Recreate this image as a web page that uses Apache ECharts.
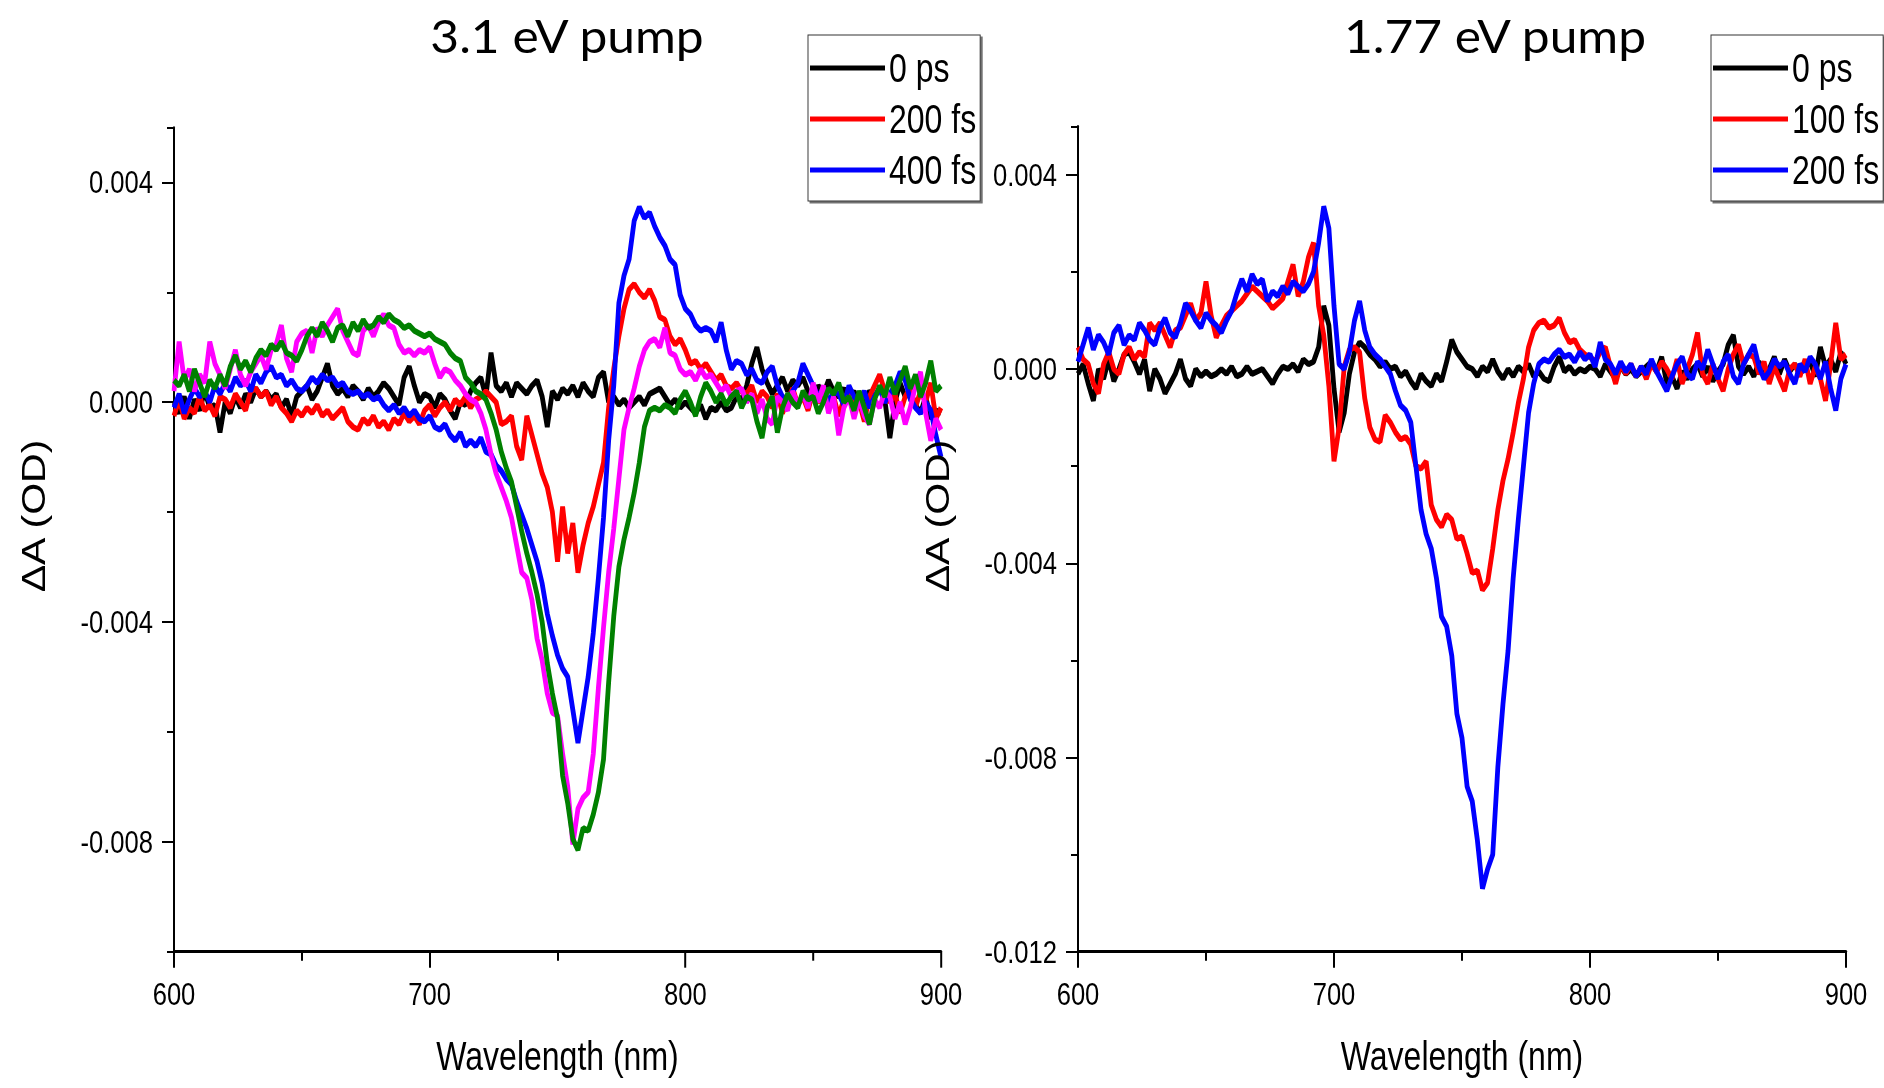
<!DOCTYPE html>
<html>
<head>
<meta charset="utf-8">
<script src="https://cdn.jsdelivr.net/npm/echarts@6/dist/echarts.min.js"></script>
<style>
html,body{margin:0;padding:0;background:#fff;overflow:hidden;width:1884px;height:1088px;}
/* the original figure is horizontally compressed (narrow-looking text); reproduce with a CSS squeeze */
.c{position:absolute;left:0;top:0;width:2355px;height:1088px;transform:scaleX(0.8);transform-origin:0 0;}
</style>
</head>
<body>
<div id="leftChart" class="c"></div>
<div id="rightChart" class="c"></div>
<script>
// ---------------- DATA ----------------
const wavelength = [
600,602,604,606,608,610,612,614,616,618,
620,622,624,626,628,630,632,634,636,638,
640,642,644,646,648,650,652,654,656,658,
660,662,664,666,668,670,672,674,676,678,
680,682,684,686,688,690,692,694,696,698,
700,702,704,706,708,710,712,714,716,718,
720,722,724,726,728,730,732,734,736,738,
740,742,744,746,748,750,752,754,756,758,
760,762,764,766,768,770,772,774,776,778,
780,782,784,786,788,790,792,794,796,798,
800,802,804,806,808,810,812,814,816,818,
820,822,824,826,828,830,832,834,836,838,
840,842,844,846,848,850,852,854,856,858,
860,862,864,866,868,870,872,874,876,878,
880,882,884,886,888,890,892,894,896,898,
900];

// 3.1 eV pump panel
const pump31_0ps = [
0.0e-3,-0.2e-3,0.1e-3,-0.3e-3,0.05e-3,-0.15e-3,0.2e-3,-0.1e-3,-0.05e-3,-0.55e-3,
0.0e-3,-0.2e-3,0.1e-3,-0.1e-3,0.15e-3,0.0e-3,0.25e-3,0.1e-3,0.2e-3,0.05e-3,
0.15e-3,-0.1e-3,0.05e-3,-0.25e-3,0.1e-3,0.2e-3,0.3e-3,0.05e-3,0.2e-3,0.45e-3,
0.7e-3,0.3e-3,0.15e-3,0.25e-3,0.1e-3,0.3e-3,0.2e-3,0.05e-3,0.25e-3,0.1e-3,
0.2e-3,0.35e-3,0.25e-3,0.1e-3,-0.05e-3,0.45e-3,0.65e-3,0.3e-3,0.0e-3,0.15e-3,
0.1e-3,-0.1e-3,0.15e-3,0.05e-3,-0.15e-3,-0.3e-3,0.0e-3,-0.05e-3,0.2e-3,0.35e-3,
0.45e-3,0.1e-3,0.9e-3,0.3e-3,0.2e-3,0.35e-3,0.1e-3,0.35e-3,0.25e-3,0.15e-3,
0.3e-3,0.4e-3,0.1e-3,-0.45e-3,0.2e-3,0.05e-3,0.25e-3,0.15e-3,0.3e-3,0.1e-3,
0.35e-3,0.2e-3,0.1e-3,0.45e-3,0.55e-3,0.0e-3,0.1e-3,-0.05e-3,0.05e-3,-0.1e-3,
0.0e-3,0.1e-3,-0.05e-3,0.15e-3,0.2e-3,0.25e-3,0.1e-3,-0.05e-3,0.05e-3,-0.1e-3,
0.0e-3,-0.1e-3,-0.2e-3,-0.05e-3,-0.3e-3,-0.1e-3,-0.15e-3,0.0e-3,-0.15e-3,-0.1e-3,
0.1e-3,0.05e-3,0.3e-3,0.7e-3,1.0e-3,0.6e-3,0.35e-3,0.15e-3,0.3e-3,0.45e-3,
0.2e-3,0.4e-3,0.3e-3,0.45e-3,0.2e-3,0.05e-3,0.3e-3,0.15e-3,0.4e-3,0.2e-3,
0.1e-3,0.25e-3,0.05e-3,0.2e-3,-0.05e-3,0.0e-3,0.2e-3,0.1e-3,0.25e-3,0.05e-3,
-0.65e-3,0.0e-3,0.35e-3,0.1e-3,0.2e-3,-0.05e-3,-0.2e-3,0.1e-3,-0.3e-3,-0.15e-3,
-0.2e-3];

const pump31_200fs = [
-0.25e-3,0.05e-3,-0.3e-3,-0.1e-3,-0.2e-3,0.1e-3,-0.15e-3,-0.05e-3,-0.25e-3,0.1e-3,
0.05e-3,-0.1e-3,0.15e-3,0.0e-3,-0.15e-3,0.2e-3,0.25e-3,0.1e-3,0.2e-3,-0.05e-3,
0.1e-3,-0.1e-3,-0.2e-3,-0.35e-3,-0.15e-3,-0.25e-3,-0.1e-3,-0.2e-3,-0.05e-3,-0.25e-3,
-0.15e-3,-0.3e-3,-0.2e-3,-0.1e-3,-0.35e-3,-0.45e-3,-0.5e-3,-0.3e-3,-0.4e-3,-0.25e-3,
-0.45e-3,-0.35e-3,-0.5e-3,-0.3e-3,-0.4e-3,-0.2e-3,-0.35e-3,-0.25e-3,-0.4e-3,-0.15e-3,
-0.05e-3,-0.25e-3,-0.1e-3,0.0e-3,-0.15e-3,0.05e-3,-0.05e-3,0.1e-3,-0.1e-3,0.05e-3,
0.1e-3,0.2e-3,0.1e-3,0.0e-3,-0.4e-3,-0.35e-3,-0.25e-3,-0.8e-3,-1.05e-3,-0.25e-3,
-0.6e-3,-0.95e-3,-1.3e-3,-1.55e-3,-2.0e-3,-2.9e-3,-1.9e-3,-2.75e-3,-2.2e-3,-3.1e-3,
-2.6e-3,-2.2e-3,-1.9e-3,-1.5e-3,-1.1e-3,-0.1e-3,0.6e-3,1.2e-3,1.7e-3,2.05e-3,
2.15e-3,2.0e-3,1.9e-3,2.05e-3,1.85e-3,1.55e-3,1.5e-3,1.2e-3,1.05e-3,1.15e-3,
0.95e-3,0.7e-3,0.75e-3,0.6e-3,0.7e-3,0.55e-3,0.4e-3,0.5e-3,0.3e-3,0.25e-3,
0.35e-3,0.2e-3,0.15e-3,0.3e-3,0.0e-3,0.2e-3,0.1e-3,-0.1e-3,0.15e-3,-0.2e-3,
0.05e-3,0.25e-3,-0.05e-3,0.1e-3,-0.15e-3,0.2e-3,0.0e-3,0.15e-3,-0.1e-3,0.1e-3,
-0.25e-3,0.05e-3,0.2e-3,-0.1e-3,0.0e-3,-0.35e-3,0.1e-3,0.3e-3,0.5e-3,0.2e-3,
0.0e-3,0.15e-3,-0.2e-3,0.1e-3,0.25e-3,-0.1e-3,0.2e-3,0.0e-3,0.35e-3,-0.3e-3,
-0.1e-3];

const pump31_400fs = [
-0.1e-3,0.15e-3,-0.2e-3,0.05e-3,0.25e-3,0.1e-3,0.2e-3,0.0e-3,0.3e-3,0.15e-3,
0.35e-3,0.2e-3,0.45e-3,0.3e-3,0.4e-3,0.2e-3,0.5e-3,0.35e-3,0.55e-3,0.65e-3,
0.45e-3,0.5e-3,0.3e-3,0.4e-3,0.25e-3,0.2e-3,0.3e-3,0.45e-3,0.35e-3,0.5e-3,
0.4e-3,0.45e-3,0.3e-3,0.35e-3,0.2e-3,0.15e-3,0.2e-3,0.1e-3,0.15e-3,0.05e-3,
0.1e-3,-0.05e-3,-0.15e-3,-0.05e-3,-0.2e-3,-0.1e-3,-0.25e-3,-0.15e-3,-0.3e-3,-0.35e-3,
-0.25e-3,-0.45e-3,-0.5e-3,-0.4e-3,-0.6e-3,-0.7e-3,-0.55e-3,-0.8e-3,-0.7e-3,-0.8e-3,
-0.65e-3,-0.9e-3,-0.95e-3,-1.15e-3,-1.25e-3,-1.4e-3,-1.5e-3,-1.8e-3,-2.05e-3,-2.3e-3,
-2.6e-3,-2.9e-3,-3.3e-3,-3.85e-3,-4.25e-3,-4.6e-3,-4.85e-3,-5.0e-3,-5.6e-3,-6.2e-3,
-5.6e-3,-5.0e-3,-4.2e-3,-3.2e-3,-2.1e-3,-0.7e-3,0.3e-3,1.8e-3,2.3e-3,2.6e-3,
3.3e-3,3.55e-3,3.35e-3,3.45e-3,3.2e-3,3.0e-3,2.85e-3,2.6e-3,2.5e-3,1.95e-3,
1.7e-3,1.6e-3,1.4e-3,1.3e-3,1.35e-3,1.3e-3,1.1e-3,1.45e-3,0.95e-3,0.6e-3,
0.75e-3,0.7e-3,0.5e-3,0.6e-3,0.4e-3,0.35e-3,0.55e-3,0.65e-3,0.3e-3,0.1e-3,
0.05e-3,0.2e-3,0.35e-3,0.7e-3,0.5e-3,0.3e-3,0.1e-3,0.25e-3,0.0e-3,0.2e-3,
0.15e-3,-0.05e-3,0.3e-3,0.1e-3,0.0e-3,0.2e-3,-0.1e-3,0.1e-3,0.25e-3,0.0e-3,
0.15e-3,0.3e-3,0.55e-3,0.4e-3,0.05e-3,-0.1e-3,-0.2e-3,0.0e-3,-0.15e-3,-0.6e-3,
-1.0e-3];

// two further (unlabelled) traces of the 3.1 eV panel
const pump31_magenta = [
0.2e-3,1.1e-3,0.4e-3,0.6e-3,0.2e-3,0.5e-3,0.35e-3,1.1e-3,0.7e-3,0.5e-3,
0.25e-3,0.6e-3,0.95e-3,0.5e-3,0.3e-3,0.55e-3,0.7e-3,0.85e-3,0.6e-3,0.95e-3,
1.05e-3,1.4e-3,0.8e-3,0.55e-3,1.1e-3,1.25e-3,1.3e-3,0.9e-3,1.35e-3,1.2e-3,
1.4e-3,1.55e-3,1.7e-3,1.3e-3,1.1e-3,0.9e-3,0.85e-3,1.3e-3,1.4e-3,1.2e-3,
1.45e-3,1.6e-3,1.4e-3,1.35e-3,1.05e-3,0.9e-3,0.95e-3,0.85e-3,0.95e-3,0.9e-3,
1.0e-3,0.7e-3,0.45e-3,0.6e-3,0.55e-3,0.4e-3,0.3e-3,0.15e-3,0.05e-3,0.0e-3,
-0.2e-3,-0.5e-3,-0.95e-3,-1.3e-3,-1.55e-3,-1.8e-3,-2.1e-3,-2.6e-3,-3.1e-3,-3.2e-3,
-3.6e-3,-4.3e-3,-4.7e-3,-5.3e-3,-5.65e-3,-5.7e-3,-6.4e-3,-7.0e-3,-8.05e-3,-7.4e-3,
-7.2e-3,-7.1e-3,-6.4e-3,-5.2e-3,-4.1e-3,-3.1e-3,-2.3e-3,-1.4e-3,-0.5e-3,-0.1e-3,
0.25e-3,0.65e-3,0.95e-3,1.1e-3,1.15e-3,1.0e-3,1.35e-3,0.9e-3,0.85e-3,0.6e-3,
0.5e-3,0.55e-3,0.4e-3,0.6e-3,0.45e-3,0.5e-3,0.35e-3,0.2e-3,0.3e-3,0.1e-3,
0.2e-3,0.25e-3,0.0e-3,0.15e-3,-0.2e-3,0.05e-3,-0.3e-3,-0.4e-3,0.1e-3,0.0e-3,
-0.15e-3,0.2e-3,-0.05e-3,0.15e-3,-0.1e-3,0.35e-3,0.0e-3,0.3e-3,-0.2e-3,0.1e-3,
-0.6e-3,-0.1e-3,0.1e-3,-0.3e-3,0.05e-3,-0.25e-3,-0.4e-3,0.05e-3,-0.1e-3,0.2e-3,
0.1e-3,-0.3e-3,0.0e-3,-0.4e-3,-0.1e-3,0.3e-3,0.55e-3,-0.2e-3,-0.7e-3,-0.3e-3,
-0.5e-3];

const pump31_green = [
0.4e-3,0.3e-3,0.5e-3,0.2e-3,0.6e-3,0.35e-3,0.1e-3,0.4e-3,0.25e-3,0.5e-3,
0.3e-3,0.65e-3,0.85e-3,0.6e-3,0.75e-3,0.55e-3,0.8e-3,0.95e-3,0.85e-3,1.05e-3,
0.95e-3,1.1e-3,0.9e-3,0.85e-3,0.75e-3,0.95e-3,1.2e-3,1.35e-3,1.2e-3,1.45e-3,
1.3e-3,1.1e-3,1.35e-3,1.4e-3,1.2e-3,1.45e-3,1.3e-3,1.5e-3,1.35e-3,1.4e-3,
1.55e-3,1.45e-3,1.6e-3,1.5e-3,1.45e-3,1.35e-3,1.4e-3,1.3e-3,1.25e-3,1.2e-3,
1.25e-3,1.15e-3,1.1e-3,1.05e-3,0.9e-3,0.8e-3,0.75e-3,0.45e-3,0.35e-3,0.2e-3,
0.15e-3,0.05e-3,-0.2e-3,-0.5e-3,-0.9e-3,-1.2e-3,-1.45e-3,-1.9e-3,-2.35e-3,-2.75e-3,
-3.1e-3,-3.5e-3,-4.0e-3,-4.75e-3,-5.3e-3,-5.75e-3,-6.8e-3,-7.3e-3,-7.95e-3,-8.15e-3,
-7.75e-3,-7.8e-3,-7.5e-3,-7.1e-3,-6.5e-3,-5.1e-3,-3.9e-3,-3.0e-3,-2.5e-3,-2.1e-3,
-1.65e-3,-1.1e-3,-0.45e-3,-0.15e-3,-0.1e-3,-0.15e-3,-0.05e-3,-0.1e-3,-0.2e-3,0.05e-3,
0.2e-3,0.0e-3,-0.25e-3,0.1e-3,0.35e-3,0.2e-3,0.0e-3,0.15e-3,-0.05e-3,0.1e-3,
0.2e-3,-0.1e-3,0.1e-3,0.05e-3,-0.35e-3,-0.65e-3,-0.1e-3,0.1e-3,-0.55e-3,-0.1e-3,
0.15e-3,0.0e-3,-0.1e-3,0.2e-3,0.05e-3,0.1e-3,-0.2e-3,0.0e-3,0.25e-3,0.15e-3,
0.35e-3,0.0e-3,0.1e-3,-0.15e-3,0.2e-3,-0.1e-3,-0.4e-3,0.05e-3,0.3e-3,0.1e-3,
0.45e-3,0.15e-3,0.4e-3,0.65e-3,0.25e-3,0.5e-3,0.1e-3,0.35e-3,0.75e-3,0.2e-3,
0.3e-3];

// 1.77 eV pump panel
const pump177_0ps = [
-0.1e-3,0.1e-3,-0.3e-3,-0.65e-3,0.0e-3,-0.2e-3,0.2e-3,-0.25e-3,0.0e-3,0.3e-3,
0.35e-3,0.15e-3,-0.1e-3,0.2e-3,-0.45e-3,0.0e-3,-0.2e-3,-0.5e-3,-0.3e-3,-0.1e-3,
0.2e-3,-0.2e-3,-0.35e-3,0.0e-3,-0.15e-3,-0.05e-3,-0.15e-3,-0.1e-3,0.0e-3,-0.1e-3,
0.05e-3,-0.15e-3,-0.1e-3,0.05e-3,-0.1e-3,-0.05e-3,0.0e-3,-0.15e-3,-0.3e-3,-0.1e-3,
0.05e-3,0.0e-3,0.1e-3,-0.05e-3,0.2e-3,0.1e-3,0.15e-3,0.45e-3,1.3e-3,0.9e-3,
-0.4e-3,-1.3e-3,-0.9e-3,-0.1e-3,0.35e-3,0.55e-3,0.45e-3,0.3e-3,0.2e-3,0.05e-3,
0.15e-3,0.0e-3,0.05e-3,-0.15e-3,-0.05e-3,-0.25e-3,-0.4e-3,-0.1e-3,-0.25e-3,-0.35e-3,
-0.1e-3,-0.25e-3,0.15e-3,0.6e-3,0.35e-3,0.2e-3,0.05e-3,0.0e-3,-0.15e-3,0.05e-3,
-0.05e-3,0.2e-3,-0.05e-3,-0.2e-3,0.0e-3,-0.15e-3,0.05e-3,-0.05e-3,0.1e-3,-0.15e-3,
-0.05e-3,-0.2e-3,-0.25e-3,0.05e-3,0.25e-3,-0.05e-3,0.05e-3,-0.1e-3,0.0e-3,-0.05e-3,
0.05e-3,0.0e-3,-0.15e-3,0.1e-3,-0.05e-3,-0.2e-3,0.05e-3,-0.1e-3,0.0e-3,-0.15e-3,
-0.05e-3,0.05e-3,0.15e-3,-0.05e-3,0.25e-3,-0.3e-3,-0.15e-3,-0.4e-3,-0.05e-3,-0.2e-3,
0.0e-3,0.1e-3,-0.15e-3,0.05e-3,-0.25e-3,-0.05e-3,0.1e-3,0.5e-3,0.7e-3,0.05e-3,
-0.1e-3,0.05e-3,-0.15e-3,0.15e-3,-0.05e-3,0.0e-3,0.25e-3,-0.1e-3,0.2e-3,-0.05e-3,
0.1e-3,-0.1e-3,0.05e-3,0.15e-3,-0.15e-3,0.45e-3,0.05e-3,0.2e-3,-0.05e-3,0.35e-3,
0.1e-3];

const pump177_100fs = [
0.45e-3,0.2e-3,0.1e-3,-0.3e-3,-0.5e-3,0.1e-3,0.35e-3,0.0e-3,-0.1e-3,0.3e-3,
0.45e-3,0.2e-3,0.35e-3,0.25e-3,0.95e-3,0.8e-3,0.95e-3,0.7e-3,0.45e-3,0.8e-3,
0.85e-3,1.1e-3,1.35e-3,1.0e-3,1.15e-3,1.8e-3,1.1e-3,0.65e-3,0.9e-3,1.1e-3,
1.2e-3,1.3e-3,1.4e-3,1.55e-3,1.7e-3,1.6e-3,1.5e-3,1.4e-3,1.25e-3,1.35e-3,
1.45e-3,1.8e-3,2.15e-3,1.5e-3,1.8e-3,2.3e-3,2.6e-3,1.3e-3,0.7e-3,-0.35e-3,
-1.9e-3,-1.2e-3,0.05e-3,0.4e-3,0.45e-3,0.35e-3,-0.6e-3,-1.2e-3,-1.45e-3,-1.5e-3,
-0.95e-3,-1.1e-3,-1.3e-3,-1.45e-3,-1.4e-3,-1.55e-3,-2.0e-3,-2.05e-3,-1.9e-3,-2.8e-3,
-3.1e-3,-3.25e-3,-3.0e-3,-3.1e-3,-3.5e-3,-3.45e-3,-3.8e-3,-4.2e-3,-4.15e-3,-4.55e-3,
-4.4e-3,-3.7e-3,-2.9e-3,-2.3e-3,-1.85e-3,-1.3e-3,-0.7e-3,-0.2e-3,0.45e-3,0.8e-3,
0.95e-3,1.0e-3,0.85e-3,0.9e-3,1.05e-3,0.75e-3,0.55e-3,0.6e-3,0.4e-3,0.3e-3,
0.25e-3,0.15e-3,0.35e-3,0.45e-3,0.05e-3,-0.3e-3,0.1e-3,-0.1e-3,0.1e-3,-0.15e-3,
0.05e-3,-0.2e-3,0.1e-3,-0.05e-3,0.15e-3,0.0e-3,-0.2e-3,0.2e-3,-0.3e-3,0.0e-3,
0.3e-3,0.75e-3,-0.1e-3,-0.3e-3,0.1e-3,-0.2e-3,-0.45e-3,0.0e-3,0.3e-3,0.5e-3,
0.1e-3,0.3e-3,0.25e-3,-0.1e-3,0.15e-3,-0.3e-3,0.05e-3,-0.2e-3,-0.45e-3,0.0e-3,
0.1e-3,-0.15e-3,0.2e-3,-0.3e-3,0.05e-3,-0.2e-3,-0.65e-3,0.1e-3,0.95e-3,0.2e-3,
0.3e-3];

const pump177_200fs = [
0.15e-3,0.5e-3,0.85e-3,0.4e-3,0.7e-3,0.55e-3,0.3e-3,0.75e-3,0.9e-3,0.5e-3,
0.7e-3,0.6e-3,0.95e-3,0.8e-3,0.6e-3,0.5e-3,0.85e-3,1.05e-3,0.75e-3,0.65e-3,
0.95e-3,1.35e-3,1.2e-3,1.0e-3,0.85e-3,1.15e-3,1.0e-3,0.9e-3,0.75e-3,1.0e-3,
1.2e-3,1.55e-3,1.85e-3,1.6e-3,1.95e-3,1.75e-3,1.85e-3,1.4e-3,1.6e-3,1.5e-3,
1.7e-3,1.55e-3,1.8e-3,1.7e-3,1.6e-3,1.75e-3,2.0e-3,2.6e-3,3.35e-3,2.9e-3,
1.3e-3,0.1e-3,0.0e-3,0.35e-3,1.0e-3,1.4e-3,0.8e-3,0.45e-3,0.3e-3,0.2e-3,
0.05e-3,-0.1e-3,-0.45e-3,-0.75e-3,-0.85e-3,-1.1e-3,-2.0e-3,-2.9e-3,-3.4e-3,-3.7e-3,
-4.3e-3,-5.1e-3,-5.3e-3,-5.9e-3,-7.1e-3,-7.6e-3,-8.6e-3,-8.9e-3,-9.7e-3,-10.7e-3,
-10.3e-3,-10.0e-3,-8.2e-3,-6.9e-3,-5.8e-3,-4.3e-3,-3.1e-3,-2.0e-3,-0.9e-3,-0.3e-3,
0.1e-3,0.2e-3,0.15e-3,0.3e-3,0.4e-3,0.25e-3,0.3e-3,0.15e-3,0.35e-3,0.2e-3,
0.3e-3,0.05e-3,0.55e-3,0.2e-3,0.1e-3,-0.1e-3,0.15e-3,-0.05e-3,0.1e-3,-0.15e-3,
0.05e-3,-0.1e-3,0.2e-3,-0.05e-3,-0.25e-3,-0.45e-3,-0.15e-3,0.1e-3,0.25e-3,-0.1e-3,
-0.2e-3,0.15e-3,0.0e-3,0.4e-3,0.1e-3,-0.2e-3,0.15e-3,0.3e-3,-0.15e-3,-0.3e-3,
0.1e-3,0.3e-3,0.5e-3,0.05e-3,-0.2e-3,-0.05e-3,0.2e-3,0.05e-3,0.15e-3,-0.1e-3,
-0.3e-3,0.1e-3,-0.05e-3,0.25e-3,0.1e-3,-0.2e-3,0.15e-3,-0.4e-3,-0.85e-3,-0.2e-3,
0.1e-3];

// tick labels
const xTickValues = [600, 700, 800, 900];
const xTickLabels = ['600', '700', '800', '900'];
const leftYTickValues = [-0.008, -0.004, 0, 0.004];
const leftYTickLabels = ['-0.008', '-0.004', '0.000', '0.004'];
const rightYTickValues = [-0.012, -0.008, -0.004, 0, 0.004];
const rightYTickLabels = ['-0.012', '-0.008', '-0.004', '0.000', '0.004'];

// ---------------- STYLE / LAYOUT ----------------
const SQUEEZE = 0.8;                       // must match the CSS scaleX above
function sx(px) { return px / SQUEEZE; }   // screen x -> chart x
const SANS = "'Liberation Sans',Arial,sans-serif";
const TITLE_FONT = "Lato,'Open Sans','Noto Sans',sans-serif";

function pairs(vals) { return wavelength.map((w, i) => [w, vals[i]]); }
function labelFrom(values, labels) {
  return function (v) {
    for (let i = 0; i < values.length; i++) if (Math.abs(values[i] - v) < 1e-9) return labels[i];
    return '';
  };
}

function buildOption(cfg) {
  const k = '#000';
  return {
    animation: false,
    backgroundColor: 'transparent',
    grid: { left: sx(cfg.gridLeft), top: cfg.gridTop, width: sx(cfg.gridWidth), height: cfg.gridHeight, containLabel: false },
    graphic: [
      { type: 'text', x: sx(cfg.titleX), y: 35, scaleX: 1.08 / SQUEEZE,
        style: { text: cfg.title, font: '46px ' + TITLE_FONT, fill: '#000', textAlign: 'center', textVerticalAlign: 'middle' } },
      { type: 'text', x: sx(cfg.yNameX), y: 516, rotation: Math.PI / 2,
        style: { text: 'ΔA (OD)', font: '41px ' + SANS, fill: '#000', textAlign: 'center', textVerticalAlign: 'middle' } }
    ],
    legend: {
      data: cfg.legendNames,
      orient: 'vertical', left: sx(cfg.legendLeft), top: 35,
      itemWidth: sx(75), itemHeight: 5, itemGap: 11, icon: 'rect',
      padding: [13, 5, 11, 2.5],
      borderColor: '#333', borderWidth: 1.2, backgroundColor: '#fff',
      shadowColor: 'rgba(0,0,0,0.55)', shadowOffsetX: 2.5, shadowOffsetY: 2, shadowBlur: 0,
      selectedMode: false,
      textStyle: { fontFamily: SANS, fontSize: 40, color: '#000', lineHeight: 40 }
    },
    xAxis: {
      type: 'value', min: 600, max: 900, interval: 100,
      axisLine: { show: true, onZero: false, lineStyle: { color: k, width: 3 } },
      axisTick: { show: true, inside: false, length: 16, lineStyle: { color: k, width: 2.5 } },
      minorTick: { show: true, splitNumber: 2, length: 9, lineStyle: { color: k, width: 2.5 } },
      splitLine: { show: false }, minorSplitLine: { show: false },
      axisLabel: { margin: 26, fontFamily: SANS, fontSize: 32, color: '#000', formatter: labelFrom(xTickValues, xTickLabels) },
      name: 'Wavelength (nm)', nameLocation: 'middle', nameGap: 84,
      nameTextStyle: { fontFamily: SANS, fontSize: 40, color: '#000' }
    },
    yAxis: [
      {
        type: 'value', min: cfg.yMin, max: 0.005, interval: 0.002,
        axisLine: { show: true, onZero: false, lineStyle: { color: k, width: 2.5 } },
        axisTick: { show: true, inside: false, length: sx(7), lineStyle: { color: k, width: 2 } },
        axisLabel: { show: false }, splitLine: { show: false }
      },
      {
        type: 'value', min: cfg.yMin, max: 0.005, position: 'left',
        axisLine: { show: false },
        axisTick: { show: true, inside: false, length: sx(12), customValues: cfg.yTickValues, lineStyle: { color: k, width: 2 } },
        axisLabel: { show: true, margin: sx(21), customValues: cfg.yTickValues, fontFamily: SANS, fontSize: 32, color: '#000',
          formatter: labelFrom(cfg.yTickValues, cfg.yTickLabels) },
        splitLine: { show: false }
      }
    ],
    series: cfg.series.map(s => ({
      name: s.name, type: 'line', data: pairs(s.values), color: s.color,
      showSymbol: false, symbol: 'none', clip: true, silent: true,
      lineStyle: { color: s.color, width: 6 }, z: 2
    }))
  };
}

const leftChart = echarts.init(document.getElementById('leftChart'), null, { renderer: 'svg' });
leftChart.setOption(buildOption({
  gridLeft: 174, gridTop: 127.4, gridWidth: 767, gridHeight: 824.3,
  yMin: -0.010, yTickValues: leftYTickValues, yTickLabels: leftYTickLabels,
  title: '3.1 eV pump', titleX: 567, yNameX: 34, legendLeft: 808,
  legendNames: ['0 ps', '200 fs', '400 fs'],
  series: [
    { name: '0 ps', values: pump31_0ps, color: '#000000' },
    { name: '200 fs', values: pump31_200fs, color: '#FF0000' },
    { name: '400 fs', values: pump31_400fs, color: '#0000FF' },
    { name: 'trace 4', values: pump31_magenta, color: '#FF00FF' },
    { name: 'trace 5', values: pump31_green, color: '#008000' }
  ]
}));

const rightChart = echarts.init(document.getElementById('rightChart'), null, { renderer: 'svg' });
rightChart.setOption(buildOption({
  gridLeft: 1078, gridTop: 126.3, gridWidth: 768, gridHeight: 825.4,
  yMin: -0.012, yTickValues: rightYTickValues, yTickLabels: rightYTickLabels,
  title: '1.77 eV pump', titleX: 1495, yNameX: 938, legendLeft: 1711,
  legendNames: ['0 ps', '100 fs', '200 fs'],
  series: [
    { name: '0 ps', values: pump177_0ps, color: '#000000' },
    { name: '100 fs', values: pump177_100fs, color: '#FF0000' },
    { name: '200 fs', values: pump177_200fs, color: '#0000FF' }
  ]
}));
</script>
</body>
</html>
